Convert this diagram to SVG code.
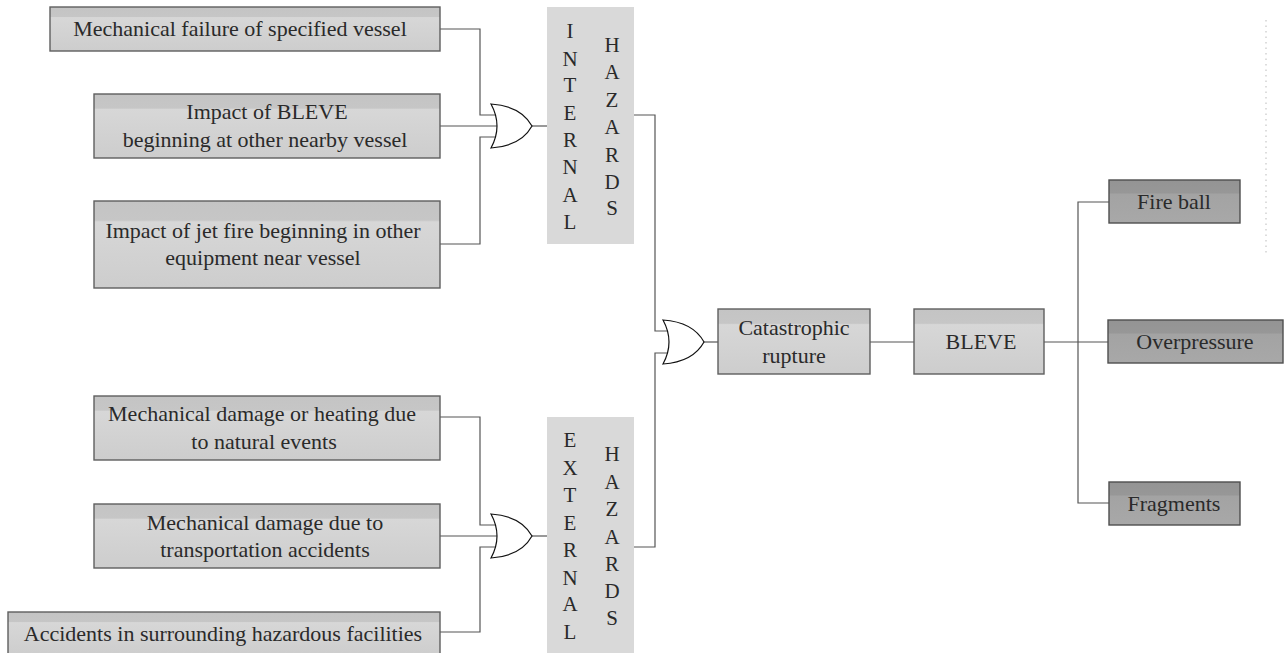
<svg xmlns="http://www.w3.org/2000/svg" width="1284" height="653" viewBox="0 0 1284 653">
<defs>
<linearGradient id="gl" x1="0" y1="0" x2="0" y2="1">
<stop offset="0" stop-color="#c4c4c4"/><stop offset="0.22" stop-color="#c6c6c6"/><stop offset="0.24" stop-color="#d7d7d7"/><stop offset="1" stop-color="#cdcdcd"/>
</linearGradient>
<linearGradient id="gd" x1="0" y1="0" x2="0" y2="1">
<stop offset="0" stop-color="#949494"/><stop offset="0.3" stop-color="#979797"/><stop offset="0.33" stop-color="#a3a3a3"/><stop offset="1" stop-color="#a8a8a8"/>
</linearGradient>
</defs>
<style>
.bl{fill:url(#gl);stroke:#5f5f5f;stroke-width:1.4}
.bd{fill:url(#gd);stroke:#4f4f4f;stroke-width:1.4}
.hz{fill:#d9d9d9}
text{font-family:"Liberation Serif","Times New Roman",serif;font-size:22px;fill:#2a2a2a;text-anchor:middle}
.lt{font-size:21px}
.c{fill:none;stroke:#555;stroke-width:1.2}
.g{fill:#fff;stroke:#111;stroke-width:1.2}
</style>
<rect width="1284" height="653" fill="#fff"/>
<g id="connectors">
<polyline class="c" points="440,29 480,29 480,115 496,115"/>
<line class="c" x1="440" y1="126" x2="498" y2="126"/>
<polyline class="c" points="440,244 480,244 480,137 496,137"/>
<line class="c" x1="532" y1="126" x2="547" y2="126"/>
<polyline class="c" points="440,417 480,417 480,525 496,525"/>
<line class="c" x1="440" y1="536" x2="498" y2="536"/>
<polyline class="c" points="440,632 480,632 480,547 496,547"/>
<line class="c" x1="532" y1="536" x2="547" y2="536"/>
<polyline class="c" points="634,115 655,115 655,331 668,331"/>
<polyline class="c" points="634,547 655,547 655,353 668,353"/>
<line class="c" x1="704" y1="342" x2="718" y2="342"/>
<line class="c" x1="870" y1="342" x2="914" y2="342"/>
<line class="c" x1="1044" y1="342" x2="1109" y2="342"/>
<polyline class="c" points="1109,202 1078,202 1078,503 1109,503"/>
</g>
<g id="gate1"><path class="g" d="M491,104 Q503,126 491,148 Q521,146 532,126 Q521,106 491,104 Z"/></g>
<g id="gate2"><path class="g" d="M491,514 Q503,536 491,558 Q521,556 532,536 Q521,516 491,514 Z"/></g>
<g id="gate3"><path class="g" d="M663,320 Q675,342 663,364 Q693,362 704,342 Q693,322 663,320 Z"/></g>
<g id="n1"><rect class="bl" x="50" y="7" width="390" height="44"/><text x="240" y="36">Mechanical failure of specified vessel</text></g>
<g id="n2"><rect class="bl" x="94" y="94" width="346" height="64"/><text x="267" y="119">Impact of BLEVE</text><text x="265" y="147">beginning at other nearby vessel</text></g>
<g id="n3"><rect class="bl" x="94" y="201" width="346" height="87"/><text x="263" y="238">Impact of jet fire beginning in other</text><text x="263" y="265">equipment near vessel</text></g>
<g id="n4"><rect class="bl" x="94" y="396" width="346" height="64"/><text x="262" y="421">Mechanical damage or heating due</text><text x="264" y="449">to natural events</text></g>
<g id="n5"><rect class="bl" x="94" y="504" width="346" height="64"/><text x="265" y="530">Mechanical damage due to</text><text x="265" y="557">transportation accidents</text></g>
<g id="n6"><rect class="bl" x="8" y="612" width="432" height="44"/><text x="223" y="641">Accidents in surrounding hazardous facilities</text></g>
<g id="internal"><rect class="hz" x="547" y="7" width="87" height="237"/>
<text class="lt" x="570" y="38">I</text><text class="lt" x="570" y="66">N</text><text class="lt" x="570" y="92">T</text><text class="lt" x="570" y="120">E</text><text class="lt" x="570" y="147">R</text><text class="lt" x="570" y="174">N</text><text class="lt" x="570" y="202">A</text><text class="lt" x="570" y="229">L</text>
<text class="lt" x="612" y="52">H</text><text class="lt" x="612" y="79">A</text><text class="lt" x="612" y="107">Z</text><text class="lt" x="612" y="134">A</text><text class="lt" x="612" y="162">R</text><text class="lt" x="612" y="189">D</text><text class="lt" x="612" y="215">S</text>
</g>
<g id="external"><rect class="hz" x="547" y="417" width="87" height="236"/>
<text class="lt" x="570" y="447">E</text><text class="lt" x="570" y="475">X</text><text class="lt" x="570" y="502">T</text><text class="lt" x="570" y="530">E</text><text class="lt" x="570" y="557">R</text><text class="lt" x="570" y="585">N</text><text class="lt" x="570" y="611">A</text><text class="lt" x="570" y="639">L</text>
<text class="lt" x="612" y="461">H</text><text class="lt" x="612" y="489">A</text><text class="lt" x="612" y="516">Z</text><text class="lt" x="612" y="544">A</text><text class="lt" x="612" y="571">R</text><text class="lt" x="612" y="598">D</text><text class="lt" x="612" y="625">S</text>
</g>
<g id="catastrophic"><rect class="bl" x="718" y="309" width="152" height="65"/><text x="794" y="335">Catastrophic</text><text x="794" y="363">rupture</text></g>
<g id="bleve"><rect class="bl" x="914" y="309" width="130" height="65"/><text x="981" y="349">BLEVE</text></g>
<g id="fireball"><rect class="bd" x="1109" y="180" width="131" height="43"/><text x="1174" y="209">Fire ball</text></g>
<g id="overpressure"><rect class="bd" x="1108" y="320" width="175" height="43"/><text x="1195" y="349">Overpressure</text></g>
<g id="fragments"><rect class="bd" x="1109" y="482" width="131" height="43"/><text x="1174" y="511">Fragments</text></g>
<line x1="1266" y1="20" x2="1266" y2="256" stroke="#bbb" stroke-width="1" stroke-dasharray="1.5,4"/>
</svg>
